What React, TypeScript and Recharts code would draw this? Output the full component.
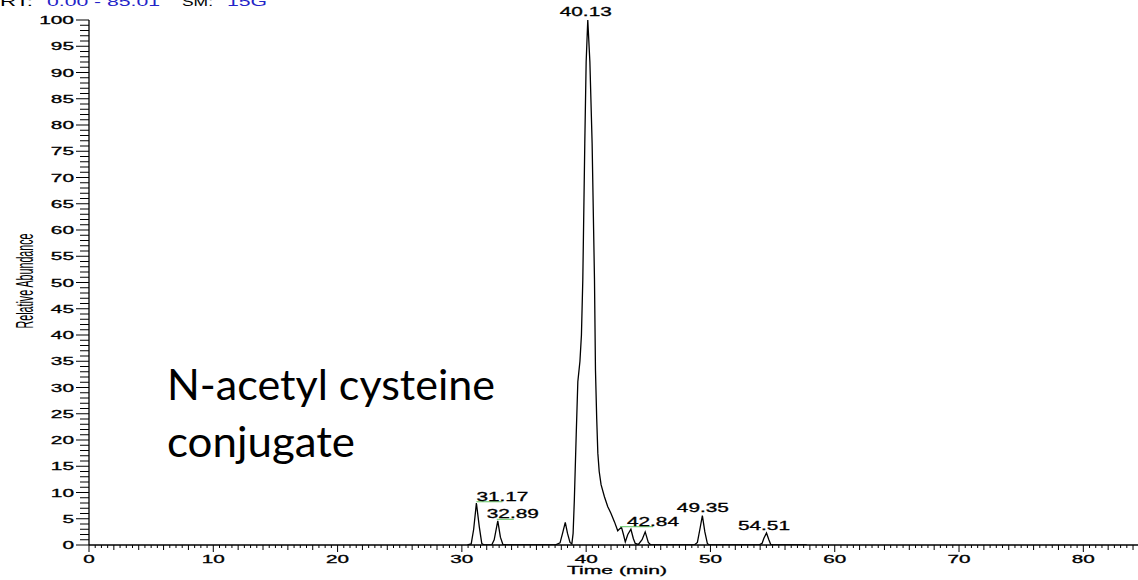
import React from "react";
import { LineChart, Line, XAxis, YAxis, ReferenceDot } from "recharts";

// retention time (min) and relative abundance (%)
const rtMinutes = [
    30.45, 30.75, 30.95, 31.17, 31.4, 31.6, 31.8,
    32.4, 32.6, 32.89, 33.1, 33.3, 33.6,
    37.5, 37.9, 38.1, 38.32, 38.5, 38.7, 38.85,
    38.95, 39.05, 39.2, 39.33, 39.5, 39.62, 39.73, 39.89, 40.0, 40.13, 40.3, 40.48, 40.6, 40.67, 40.75, 40.85, 40.94,
    41.05, 41.2, 41.47, 41.74, 42.0, 42.28, 42.54, 42.84, 43.0, 43.15, 43.35, 43.6, 43.8, 43.95,
    44.2, 44.5, 44.75, 45.0, 45.2,
    48.7, 48.95, 49.15, 49.35, 49.55, 49.75, 49.9,
    53.9, 54.15, 54.3, 54.51, 54.7, 54.85, 55.0, 57.75,
];
const relAbundance = [
    0, 0.2, 3, 8.0, 3.5, 0.3, 0,
    0, 1.0, 4.6, 1.5, 0.1, 0,
    0, 0.4, 2.2, 4.3, 2.2, 0.5, 0.2,
    2.2, 8.6, 21, 31.1, 35, 40, 50.5, 76.5, 92, 100, 92, 76.5, 60, 50.5, 33.3, 24, 17.5,
    14.0, 11.5, 9.2, 7.3, 6.0, 4.4, 2.7, 3.4, 2.0, 0.6, 2.0, 3.0, 1.2, 0.3,
    0.1, 1.0, 2.5, 0.5, 0,
    0, 0.5, 3.0, 5.6, 2.5, 0.3, 0,
    0, 0.3, 1.3, 2.3, 1.0, 0.1, 0, 0,
];

const peakTimes = [31.17, 32.89, 40.13, 42.84, 49.35, 54.51];
const peakHeights = [8.0, 4.6, 100, 3.4, 5.6, 2.3];

const xMajorTicks = [0, 10, 20, 30, 40, 50, 60, 70, 80];
const yMajorTicks = [0, 5, 10, 15, 20, 25, 30, 35, 40, 45, 50, 55, 60, 65, 70, 75, 80, 85, 90, 95, 100];

const data = rtMinutes.map((t, i) => ({ t, v: relAbundance[i] }));

const xTicks: number[] = [];
for (let i = 0; i <= 168; i++) xTicks.push(i / 2);
const yTicks: number[] = [];
for (let i = 0; i <= 100; i++) yTicks.push(i);

// label placement relative to the apex (px): text left, baseline, green bar
const labelLayout = [
    { dx: 0, dy: -2.3, bar: [0, 26] },
    { dx: -11, dy: -2.5, bar: [-1, 16] },
    { dx: -28, dy: -4, bar: null },
    { dx: 5.5, dy: -1.5, bar: [-1.5, 31.5] },
    { dx: -25.5, dy: -3.6, bar: null },
    { dx: -28.5, dy: -3, bar: null },
];

const FONT = "'Liberation Sans', Arial, sans-serif";
const heavy = { stroke: "#000", strokeWidth: 0.3 };

function XTick({ x, y, payload }: any) {
    const v = payload.value;
    const major = Math.abs(v % 10) < 1e-6;
    const mid = Math.abs(v % 2) < 1e-6;
    const len = major ? 7 : mid ? 5 : 3;
    const w = String(v).length * 11.5;
    return (
        <g>
            <line x1={x} x2={x} y1={y} y2={y + len} stroke="#000" strokeWidth={1} />
            {major && xMajorTicks.includes(v) && (
                <text x={x - w / 2} y={y + 17.5} fontSize={11} fontFamily={FONT} fill="#000" {...heavy}
                    textLength={w} lengthAdjust="spacingAndGlyphs">{v}</text>
            )}
        </g>
    );
}

function YTick({ x, y, payload }: any) {
    const v = payload.value;
    const major = yMajorTicks.includes(v);
    const len = major ? 13 : 9;
    const w = String(v).length * 11.6;
    return (
        <g>
            <line x1={x - len} x2={x} y1={y} y2={y} stroke="#000" strokeWidth={1} />
            {major && (
                <text x={74 - w} y={y + 4} fontSize={11} fontFamily={FONT} fill="#000" {...heavy}
                    textLength={w} lengthAdjust="spacingAndGlyphs">{v}</text>
            )}
        </g>
    );
}

function PeakLabel({ cx, cy, idx }: any) {
    const l = labelLayout[idx];
    return (
        <g>
            {l.bar && (
                <line x1={cx + l.bar[0]} x2={cx + l.bar[1]} y1={cy + l.dy + 1} y2={cy + l.dy + 1}
                    stroke="#7ccf7c" strokeWidth={1.2} />
            )}
            <text x={cx + l.dx} y={cy + l.dy} fontSize={12} fontFamily={FONT} fill="#000" {...heavy}
                textLength={52} lengthAdjust="spacingAndGlyphs">{peakTimes[idx].toFixed(2)}</text>
        </g>
    );
}

export default function App() {
    return (
        <div style={{ position: "absolute", left: 0, top: 0, width: 1138, height: 580, background: "#fff", overflow: "hidden" }}>
            <LineChart width={1138} height={580} data={data} margin={{ top: 20, right: 0, bottom: 0, left: 0 }}>
                <XAxis
                    dataKey="t"
                    type="number"
                    domain={[0, 84.4]}
                    ticks={xTicks}
                    interval={0}
                    tickSize={0}
                    tickMargin={0}
                    height={35}
                    tick={<XTick />}
                    axisLine={{ stroke: "#000", strokeWidth: 1.3 }}
                    allowDataOverflow
                />
                <YAxis
                    type="number"
                    domain={[0, 100]}
                    ticks={yTicks}
                    interval={0}
                    tickSize={0}
                    tickMargin={0}
                    width={89}
                    tick={<YTick />}
                    axisLine={{ stroke: "#000", strokeWidth: 1.3 }}
                    allowDataOverflow
                />
                <Line
                    type="linear"
                    dataKey="v"
                    stroke="#000"
                    strokeWidth={1.3}
                    dot={false}
                    activeDot={false}
                    isAnimationActive={false}
                />
                {peakTimes.map((t, i) => (
                    <ReferenceDot key={t} x={t} y={peakHeights[i]} r={0}
                        shape={(p: any) => <PeakLabel {...p} idx={i} />} />
                ))}
            </LineChart>

            <svg width={1138} height={580} style={{ position: "absolute", left: 0, top: 0, pointerEvents: "none" }}>
                {/* header */}
                <text x={0} y={6} fontSize={13} fontFamily={FONT} fill="#000" textLength={33} lengthAdjust="spacingAndGlyphs">RT:</text>
                <text x={47} y={6} fontSize={13} fontFamily={FONT} fill="#2424c8" textLength={113} lengthAdjust="spacingAndGlyphs">0.00 - 85.01</text>
                <text x={182} y={6} fontSize={13} fontFamily={FONT} fill="#000" textLength={31} lengthAdjust="spacingAndGlyphs">SM:</text>
                <text x={227} y={6} fontSize={13} fontFamily={FONT} fill="#2424c8" textLength={40} lengthAdjust="spacingAndGlyphs">15G</text>

                {/* axis titles */}
                <text transform="translate(33,281) rotate(-90)" x={-47.5} y={0} fontSize={24} fontFamily={FONT} fill="#000"
                    textLength={95} lengthAdjust="spacingAndGlyphs">Relative Abundance</text>
                <text x={567} y={574} fontSize={11.5} fontFamily={FONT} fill="#000" {...heavy} textLength={100} lengthAdjust="spacingAndGlyphs">Time (min)</text>

                {/* annotation */}
                <text x={167} y={400} fontSize={42} fontFamily="Lato, 'Open Sans', sans-serif" fill="#000"
                    textLength={328} lengthAdjust="spacingAndGlyphs">N-acetyl cysteine</text>
                <text x={167} y={457} fontSize={42} fontFamily="Lato, 'Open Sans', sans-serif" fill="#000"
                    textLength={188} lengthAdjust="spacingAndGlyphs">conjugate</text>
            </svg>
        </div>
    );
}
